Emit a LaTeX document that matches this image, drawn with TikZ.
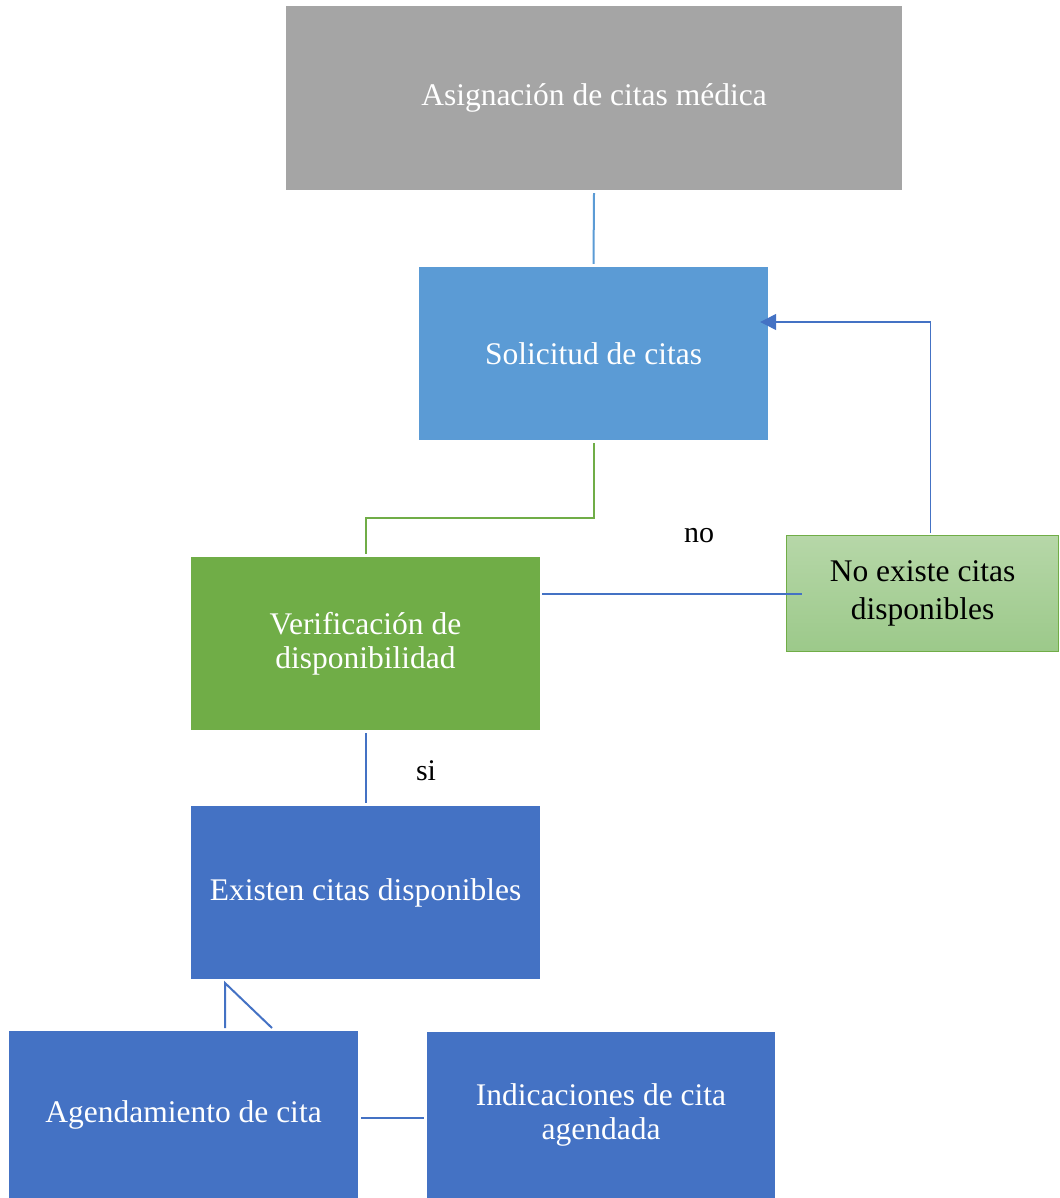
\documentclass[tikz,border=0pt]{standalone}
\usepackage{fontspec}
\setmainfont{Liberation Serif}
\usetikzlibrary{arrows.meta}
\definecolor{cgray}{HTML}{A5A5A5}
\definecolor{cblue}{HTML}{5B9BD5}
\definecolor{cgreen}{HTML}{70AD47}
\definecolor{cdark}{HTML}{4472C4}
\definecolor{lgtop}{HTML}{B6D7A8}
\definecolor{lgbot}{HTML}{9CC98A}
\tikzset{
  box/.style={rectangle, inner sep=0pt, text=white, align=center, font=\fontsize{31.5}{34}\selectfont},
  lbl/.style={inner sep=0pt, font=\fontsize{30}{32}\selectfont},
  conn/.style={line width=2pt},
  thin/.style={line width=1.3pt, draw=cdark}
}
\begin{document}
\begin{tikzpicture}[x=1pt,y=-1pt]
\useasboundingbox (0,0) rectangle (1059,1198);
\node[box, fill=cgray, minimum width=616pt, minimum height=184pt] (title) at (594,98) {Asignación de citas médica};
\node[box, fill=cblue, minimum width=349pt, minimum height=173pt] (sol) at (593.5,353.5) {Solicitud de citas};
\node[box, fill=cgreen, minimum width=349pt, minimum height=173pt] (ver) at (365.5,643.5) {Verificación de\\disponibilidad};
\node[box, draw=cgreen, line width=1pt, top color=lgtop, bottom color=lgbot, text=black, minimum width=272pt, minimum height=116pt, font=\fontsize{31.5}{38}\selectfont] (no) at (922.5,593.5) {No existe citas\\disponibles};
\node[box, fill=cdark, minimum width=349pt, minimum height=173pt] (ex) at (365.5,892.5) {Existen citas disponibles};
\node[box, fill=cdark, minimum width=349pt, minimum height=167pt] (ag) at (183.5,1114.5) {Agendamiento de cita};
\node[box, fill=cdark, minimum width=348pt, minimum height=166pt] (ind) at (601,1115) {Indicaciones de cita\\agendada};
\node[lbl] (nolbl) at (699,536) {no};
\node[lbl] (silbl) at (426,771) {si};
% connectors
\draw[conn, draw=cblue] ([yshift=-3pt]title.south) -- ([yshift=3pt]sol.north);
\draw[conn, draw=cgreen] ([yshift=-3pt]sol.south) |- (366,518) -- ([xshift=0.5pt,yshift=3pt]ver.north);
\draw[thin] ([xshift=2pt]ver.east|-594,594) -- ([xshift=16pt]no.west|-594,594);
\draw[thin, -{Triangle[length=16pt,width=16pt]}] ([xshift=8pt,yshift=2pt]no.north) |- ([xshift=-8pt]sol.east|-322,322);
\draw[conn, draw=cdark] ([yshift=-3pt]ver.south) -- ([yshift=3pt]ex.north);
\coordinate (k1) at (225,983);
\draw[conn, draw=cdark] (225,1028) -- (k1) -- (272,1028);
\draw[conn, draw=cdark] ([xshift=3pt]ag.east|-1118,1118) -- ([xshift=-3pt]ind.west|-1118,1118);
\end{tikzpicture}
\end{document}
